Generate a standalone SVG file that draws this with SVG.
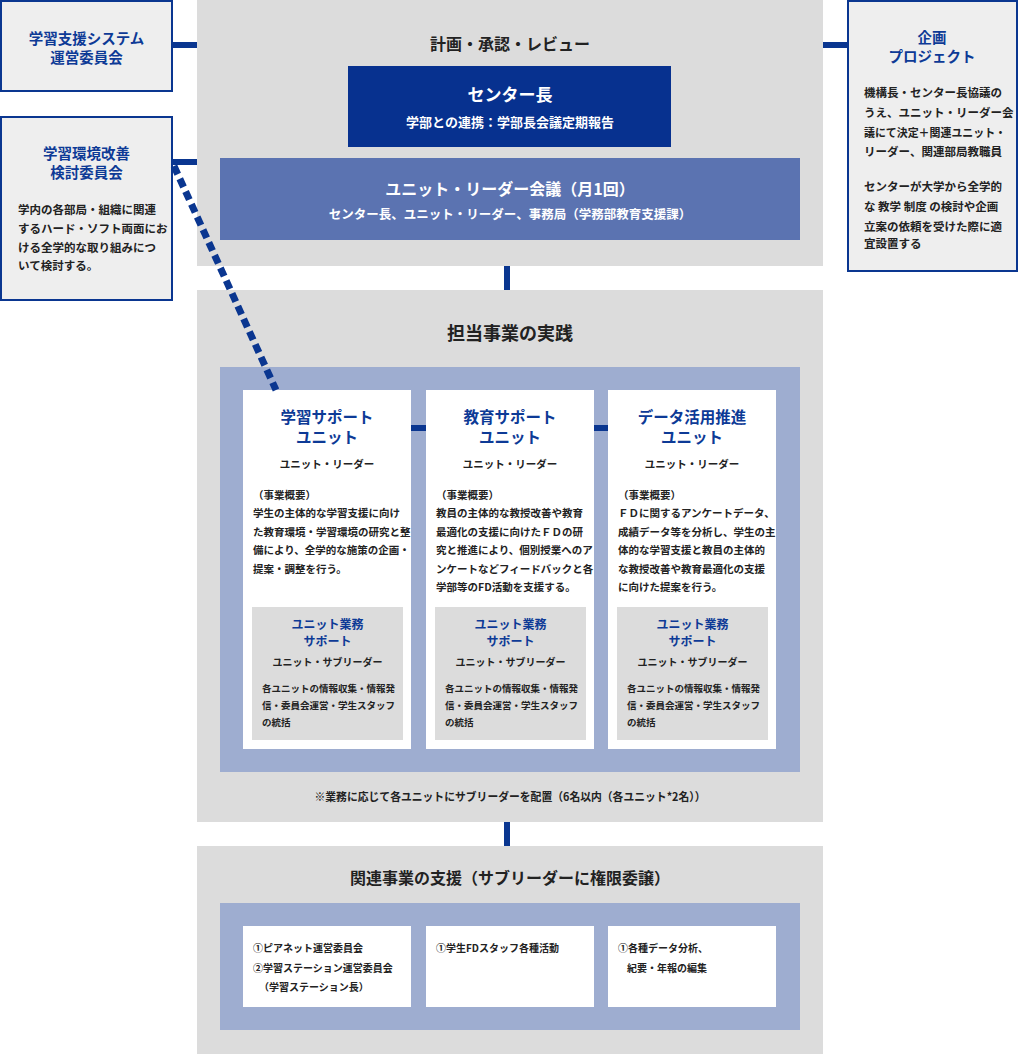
<svg xmlns="http://www.w3.org/2000/svg" width="1020" height="1054" viewBox="0 0 1020 1054">
<style>
text{font-family:"Noto Sans CJK JP","Noto Sans CJK SC",sans-serif;font-weight:bold;}
.bt{fill:#0d3a96;}
.dk{fill:#222;}
.wh{fill:#fff;}
.c{text-anchor:middle;}
.side{fill:#eeeeee;stroke:#0a3690;stroke-width:2;}
.panel{fill:#dcdcdc;}
.area{fill:#9eadd0;}
.card{fill:#fff;}
.inner{fill:#dcdcdc;}
.link{stroke:#0a3690;stroke-width:6;fill:none;}
.st{font-size:14.5px;}
.ut{font-size:15.5px;}
.ul{font-size:10.5px;}
.ub{font-size:10.5px;}
.it{font-size:12px;}
.is{font-size:10px;}
.ib{font-size:9.5px;}
.sb{font-size:11.5px;}
.rb{font-size:10px;}
</style>
<rect width="1020" height="1054" fill="#fff"/>
<g id="panel-top">
<rect class="panel" x="197" y="0" width="626" height="266"/>
<text class="dk c" x="510" y="50" font-size="16">計画・承認・レビュー</text>
</g>
<g id="center-head">
<rect x="348" y="66" width="323" height="81" fill="#07318f"/>
<text class="wh c" x="510" y="101" font-size="17">センター長</text>
<text class="wh c" x="510" y="127" font-size="13">学部との連携：学部長会議定期報告</text>
</g>
<g id="leader-meeting">
<rect x="220" y="158" width="580" height="82" fill="#5b73b1"/>
<text class="wh c" x="510" y="195" font-size="16">ユニット・リーダー会議（月1回）</text>
<text class="wh c" x="510" y="219" font-size="12.5">センター長、ユニット・リーダー、事務局（学務部教育支援課）</text>
</g>
<g id="committee-system">
<rect class="side" x="1" y="1" width="171" height="90"/>
<text class="bt c st" x="86.5" y="43.5">学習支援システム</text>
<text class="bt c st" x="86.5" y="62.5">運営委員会</text>
</g>
<g id="committee-env">
<rect class="side" x="1" y="117" width="171" height="183"/>
<text class="bt c st" x="86.5" y="159">学習環境改善</text>
<text class="bt c st" x="86.5" y="178">検討委員会</text>
<text class="dk sb" x="18" y="214">学内の各部局・組織に関連</text>
<text class="dk sb" x="18" y="233">するハード・ソフト両面にお</text>
<text class="dk sb" x="18" y="252">ける全学的な取り組みにつ</text>
<text class="dk sb" x="18" y="270">いて検討する。</text>
</g>
<g id="project">
<rect class="side" x="848" y="1" width="169" height="270"/>
<text class="bt c st" x="932" y="43">企画</text>
<text class="bt c st" x="932" y="62">プロジェクト</text>
<text class="dk sb" x="864" y="97">機構長・センター長協議の</text>
<text class="dk sb" x="864" y="117">うえ、ユニット・リーダー会</text>
<text class="dk sb" x="864" y="137" textLength="142" lengthAdjust="spacingAndGlyphs">議にて決定＋関連ユニット・</text>
<text class="dk sb" x="864" y="156">リーダー、関連部局教職員</text>
<text class="dk sb" x="864" y="191">センターが大学から全学的</text>
<text class="dk sb" x="864" y="211">な 教学 制度 の検討や企画</text>
<text class="dk sb" x="864" y="231">立案の依頼を受けた際に適</text>
<text class="dk sb" x="864" y="248">宜設置する</text>
</g>
<g id="panel-practice">
<rect class="panel" x="197" y="290" width="626" height="532"/>
<text class="dk c" x="510" y="340" font-size="18">担当事業の実践</text>
<rect class="area" x="220" y="367" width="580" height="405"/>
<text class="dk c" x="510" y="801" font-size="11.5" textLength="391" lengthAdjust="spacingAndGlyphs">※業務に応じて各ユニットにサブリーダーを配置（6名以内（各ユニット*2名））</text>
</g>
<g id="unit-learning">
<rect class="card" x="243" y="390" width="168" height="359"/>
<text class="bt c ut" x="327" y="423">学習サポート</text>
<text class="bt c ut" x="327" y="443">ユニット</text>
<text class="dk c ul" x="327" y="468">ユニット・リーダー</text>
<text class="dk ub" x="253" y="499">（事業概要）</text>
<text class="dk ub" x="253" y="517">学生の主体的な学習支援に向け</text>
<text class="dk ub" x="253" y="536">た教育環境・学習環境の研究と整</text>
<text class="dk ub" x="253" y="554">備により、全学的な施策の企画・</text>
<text class="dk ub" x="253" y="573">提案・調整を行う。</text>
<rect class="inner" x="252" y="607" width="151" height="133"/>
<text class="bt c it" x="327.5" y="629">ユニット業務</text>
<text class="bt c it" x="327.5" y="646">サポート</text>
<text class="dk c is" x="327.5" y="666">ユニット・サブリーダー</text>
<text class="dk ib" x="262" y="692">各ユニットの情報収集・情報発</text>
<text class="dk ib" x="262" y="709">信・委員会運営・学生スタッフ</text>
<text class="dk ib" x="262" y="726">の統括</text>
</g>
<g id="unit-education">
<rect class="card" x="426" y="390" width="168" height="359"/>
<text class="bt c ut" x="510" y="423">教育サポート</text>
<text class="bt c ut" x="510" y="443">ユニット</text>
<text class="dk c ul" x="510" y="468">ユニット・リーダー</text>
<text class="dk ub" x="436" y="499">（事業概要）</text>
<text class="dk ub" x="436" y="517">教員の主体的な教授改善や教育</text>
<text class="dk ub" x="436" y="536">最適化の支援に向けたＦＤの研</text>
<text class="dk ub" x="436" y="554">究と推進により、個別授業へのア</text>
<text class="dk ub" x="436" y="573">ンケートなどフィードバックと各</text>
<text class="dk ub" x="436" y="591">学部等のFD活動を支援する。</text>
<rect class="inner" x="435" y="607" width="151" height="133"/>
<text class="bt c it" x="510.5" y="629">ユニット業務</text>
<text class="bt c it" x="510.5" y="646">サポート</text>
<text class="dk c is" x="510.5" y="666">ユニット・サブリーダー</text>
<text class="dk ib" x="445" y="692">各ユニットの情報収集・情報発</text>
<text class="dk ib" x="445" y="709">信・委員会運営・学生スタッフ</text>
<text class="dk ib" x="445" y="726">の統括</text>
</g>
<g id="unit-data">
<rect class="card" x="608" y="390" width="168" height="359"/>
<text class="bt c ut" x="692" y="423">データ活用推進</text>
<text class="bt c ut" x="692" y="443">ユニット</text>
<text class="dk c ul" x="692" y="468">ユニット・リーダー</text>
<text class="dk ub" x="618" y="499">（事業概要）</text>
<text class="dk ub" x="618" y="517">ＦＤに関するアンケートデータ、</text>
<text class="dk ub" x="618" y="536">成績データ等を分析し、学生の主</text>
<text class="dk ub" x="618" y="554">体的な学習支援と教員の主体的</text>
<text class="dk ub" x="618" y="573">な教授改善や教育最適化の支援</text>
<text class="dk ub" x="618" y="591">に向けた提案を行う。</text>
<rect class="inner" x="617" y="607" width="151" height="133"/>
<text class="bt c it" x="692.5" y="629">ユニット業務</text>
<text class="bt c it" x="692.5" y="646">サポート</text>
<text class="dk c is" x="692.5" y="666">ユニット・サブリーダー</text>
<text class="dk ib" x="627" y="692">各ユニットの情報収集・情報発</text>
<text class="dk ib" x="627" y="709">信・委員会運営・学生スタッフ</text>
<text class="dk ib" x="627" y="726">の統括</text>
</g>
<g id="panel-related">
<rect class="panel" x="197" y="846" width="626" height="208"/>
<text class="dk c" x="510" y="884" font-size="16">関連事業の支援（サブリーダーに権限委譲）</text>
<rect class="area" x="220" y="903" width="580" height="127"/>
</g>
<g id="related-1">
<rect class="card" x="243" y="926" width="168" height="81"/>
<text class="dk rb" x="253" y="952">①ピアネット運営委員会</text>
<text class="dk rb" x="253" y="972">②学習ステーション運営委員会</text>
<text class="dk rb" x="259" y="991">（学習ステーション長）</text>
</g>
<g id="related-2">
<rect class="card" x="426" y="926" width="168" height="81"/>
<text class="dk rb" x="436" y="952">①学生FDスタッフ各種活動</text>
</g>
<g id="related-3">
<rect class="card" x="608" y="926" width="168" height="81"/>
<text class="dk rb" x="618" y="952">①各種データ分析、</text>
<text class="dk rb" x="627" y="972">紀要・年報の編集</text>
</g>
<g id="connectors">
<line class="link" x1="173" y1="45" x2="197" y2="45"/>
<line class="link" x1="173" y1="162" x2="197" y2="162"/>
<line class="link" x1="823" y1="45" x2="847" y2="45"/>
<line class="link" x1="507" y1="266" x2="507" y2="290"/>
<line class="link" x1="507" y1="822" x2="507" y2="846"/>
<line class="link" x1="411" y1="428" x2="426" y2="428"/>
<line class="link" x1="594" y1="428" x2="608" y2="428"/>
<line x1="174" y1="166" x2="276" y2="390" stroke="#0a3690" stroke-width="7" stroke-dasharray="9 5"/>
</g>
</svg>
